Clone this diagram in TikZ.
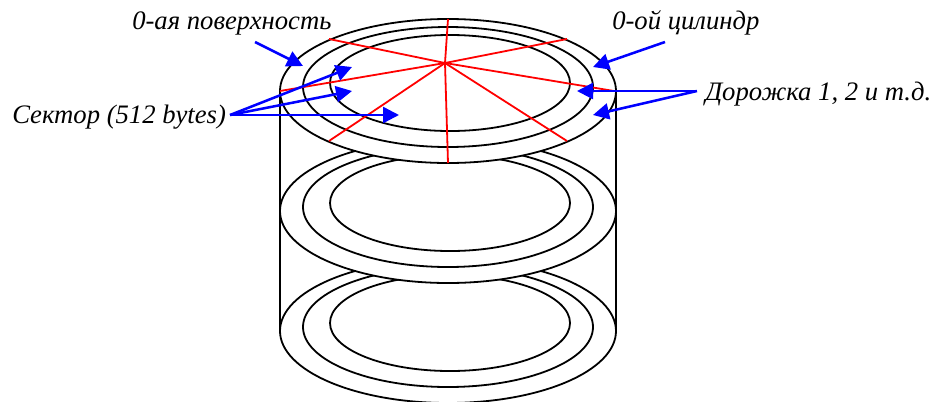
\documentclass[tikz,border=0pt]{standalone}
\usepackage{fontspec}
\setmainfont{Liberation Serif}
\usetikzlibrary{arrows.meta}
\tikzset{
  disc/.style={draw=black, fill=white, line width=1.35pt},
  sector/.style={draw=red, line width=1.35pt},
  pointer/.style={draw=blue, line width=1.9pt, -{Triangle[length=12pt,width=12pt]}},
  caption/.style={font=\itshape\fontsize{20}{24}\selectfont, inner sep=0pt, anchor=base west}
}
\begin{document}
\begin{tikzpicture}[x=0.75pt, y=-0.75pt]
  \useasboundingbox (0,0) rectangle (936,401);
  \clip (0,0) rectangle (936,401);

  % Walls
  \draw[line width=1.35pt] (280,91) -- (280,329);
  \draw[line width=1.35pt] (616,91) -- (616,329);

  % Discs
  \foreach \dy in {240,120,0} {
    \draw[disc] (448,91+\dy) ellipse [x radius=168, y radius=72];
    \draw[disc] (448,87+\dy) ellipse [x radius=145, y radius=60];
    \draw[disc] (450,83+\dy) ellipse [x radius=120, y radius=48];
  }

  % Sectors
  \coordinate (hub) at (445,63);
  \foreach \x/\y in {448/19, 448/163, 329/39, 567/39, 280/91, 614/91, 329/141, 567/141}
    \draw[sector] (hub) -- (\x,\y);

  % Labels
  \node[caption] (surface) at (132,29) {0-ая поверхность};
  \node[caption] (cylinder) at (612,29) {0-ой цилиндр};
  \node[caption] (sectors) at (12,123) {Сектор (512 bytes)};
  \node[caption] (tracks) at (705,100) {Дорожка 1, 2 и т.д.};

  % Arrow ends
  \coordinate (surfaceA) at (255,42);
  \coordinate (surfaceB) at (303,66);
  \coordinate (cylinderA) at (665,42);
  \coordinate (cylinderB) at (593,67);
  \coordinate (tracksA) at (697,91);
  \coordinate (tracksB) at (577,91);
  \coordinate (tracksC) at (593,115);
  \coordinate (sectorsA) at (230,115);
  \coordinate (sectorsB) at (352,67);
  \coordinate (sectorsC) at (352,91);
  \coordinate (sectorsD) at (399,115);

  % Arrows
  \draw[pointer] (surfaceA) -- (surfaceB);
  \draw[pointer] (cylinderA) -- (cylinderB);
  \draw[pointer] (tracksA) -- (tracksB);
  \draw[pointer] (tracksA) -- (tracksC);
  \draw[pointer] (sectorsA) -- (sectorsB);
  \draw[pointer] (sectorsA) -- (sectorsC);
  \draw[pointer] (sectorsA) -- (sectorsD);
\end{tikzpicture}
\end{document}
